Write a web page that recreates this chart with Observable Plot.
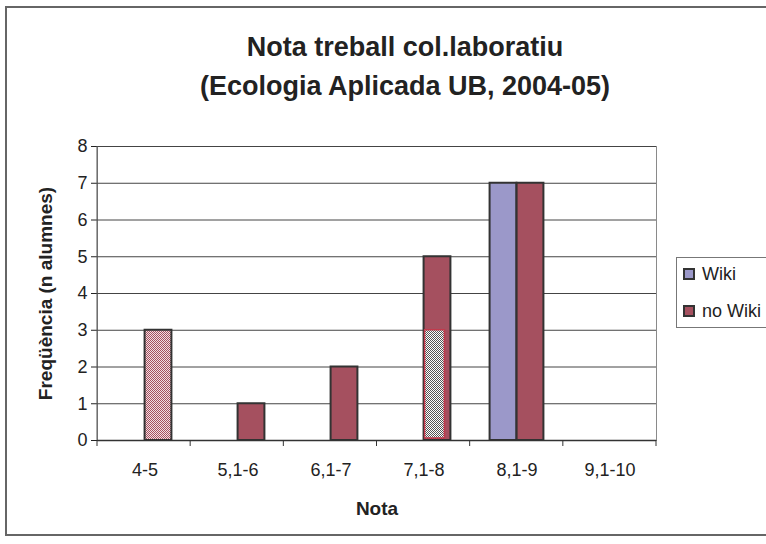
<!DOCTYPE html>
<html>
<head>
<meta charset="utf-8">
<script src="https://cdn.jsdelivr.net/npm/d3@7"></script>
<script src="https://cdn.jsdelivr.net/npm/@observablehq/plot@0.6"></script>
<style>
  html, body { margin: 0; padding: 0; background: #fff; overflow: hidden; }
  body { width: 766px; height: 544px; position: relative; font-family: "Liberation Sans", Arial, sans-serif; color: #222; }
  #frame { position: absolute; left: 5px; top: 6px; width: 761px; height: 530px; border: 2px solid #666; border-right: none; box-sizing: border-box; }
  #title { position: absolute; left: 44px; width: 722px; top: 28px; text-align: center; font-weight: bold; font-size: 27px; line-height: 39px; color: #222; }
  #chart { position: absolute; left: 0; top: 0; }
  #legend { position: absolute; left: 676px; top: 257px; width: 90px; height: 71px; border: 1px solid #777; border-right: none; box-sizing: border-box; background: #fff; font-size: 18px; }
  .item { position: absolute; left: 6px; height: 20px; line-height: 20px; white-space: nowrap; }
  .sw { display: inline-block; width: 8px; height: 8px; border: 2px solid #333; vertical-align: middle; margin-right: 7px; position: relative; top: -1px; }
</style>
</head>
<body>
<div id="frame"></div>
<div id="title">Nota treball col.laboratiu<br>(Ecologia Aplicada UB, 2004-05)</div>
<div id="chart"></div>
<div id="legend"></div>
<script>
// Data
const categories = ["4-5", "5,1-6", "6,1-7", "7,1-8", "8,1-9", "9,1-10"];
const wiki = [0, 0, 0, 0, 7, 0];
const noWiki = [3, 1, 2, 5, 7, 0];
const shadedOverlay = [0, 0, 0, 3, 0, 0];
const yTicks = [0, 1, 2, 3, 4, 5, 6, 7, 8];
const seriesNames = ["Wiki", "no Wiki"];

const colWiki = "#9b98c9";
const colNoWiki = "#a5505f";

const wikiData = categories.map((c, i) => ({cat: c, value: wiki[i]})).filter(d => d.value > 0);
const noWikiData = categories.map((c, i) => ({cat: c, value: noWiki[i]})).filter(d => d.value > 0);
const overlayData = categories.map((c, i) => ({cat: c, value: shadedOverlay[i]})).filter(d => d.value > 0);

const W = 766, H = 544;
const mL = 97, mR = 110, mT = 146, mB = 104;
const bw = (W - mL - mR) / categories.length;
const half = bw / 2;
const barW = 27;

const plot = Plot.plot({
  width: W,
  height: H,
  marginLeft: mL,
  marginRight: mR,
  marginTop: mT,
  marginBottom: mB,
  style: {fontFamily: "'Liberation Sans', Arial, sans-serif", color: "#222", background: "transparent", overflow: "visible"},
  x: {domain: categories, padding: 0},
  y: {domain: [0, 8]},
  marks: [
    Plot.frame({stroke: "#8a8a8a"}),
    Plot.ruleY(yTicks.filter(d => d > 0), {stroke: "#444", strokeWidth: 1}),
    Plot.barY(wikiData, {x: "cat", y: "value", fill: colWiki, stroke: "#333", strokeWidth: 2,
      insetLeft: half - barW, insetRight: half}),
    Plot.barY(noWikiData.filter(d => d.cat !== "4-5"), {x: "cat", y: "value", fill: colNoWiki, stroke: "#333", strokeWidth: 2,
      insetLeft: half, insetRight: half - barW}),
    Plot.barY(noWikiData.filter(d => d.cat === "4-5"), {x: "cat", y: "value", fill: "url(#pinkCheck)", stroke: "#333", strokeWidth: 2,
      insetLeft: half, insetRight: half - barW}),
    Plot.barY(overlayData, {x: "cat", y: "value", fill: "url(#grayCheck)", stroke: "#c23a4c", strokeWidth: 1.5,
      insetLeft: half + 1, insetRight: half - barW + 6, insetBottom: 2}),
    Plot.ruleY([0], {stroke: "#333", strokeWidth: 1.5}),
    Plot.axisY({ticks: yTicks, tickSize: 6, tickPadding: 4, fontSize: 18, label: null, tickFormat: d => String(d)}),
    Plot.axisX({tickSize: 0, tickPadding: 23, fontSize: 18, label: null}),
    Plot.text(["Nota"], {frameAnchor: "bottom", dy: 74, fontSize: 19, fontWeight: "bold", text: d => d}),
    Plot.text(["Freqüència (n alumnes)"], {frameAnchor: "left", textAnchor: "middle", dx: -52, rotate: -90, fontSize: 19, fontWeight: "bold", text: d => d})
  ]
});

// patterns for hatched bars
const ns = "http://www.w3.org/2000/svg";
const defs = document.createElementNS(ns, "defs");
defs.innerHTML = `
  <pattern id="pinkCheck" width="2" height="2" patternUnits="userSpaceOnUse">
    <rect width="2" height="2" fill="#f2dfe3"/>
    <rect x="0" y="0" width="1" height="1" fill="${colNoWiki}"/>
    <rect x="1" y="1" width="1" height="1" fill="${colNoWiki}"/>
  </pattern>
  <pattern id="grayCheck" width="2" height="2" patternUnits="userSpaceOnUse">
    <rect width="2" height="2" fill="#ffffff"/>
    <rect x="0" y="0" width="1" height="1" fill="#555"/>
    <rect x="1" y="1" width="1" height="1" fill="#555"/>
  </pattern>`;
plot.insertBefore(defs, plot.firstChild);

// category boundary ticks on the x axis (from the x scale)
const xs = plot.scale("x");
const y0 = H - mB;
const g = d3.select(plot).append("g").attr("stroke", "#333").attr("stroke-width", 1);
const r0 = xs.range[0], r1 = xs.range[1];
const step = (r1 - r0) / categories.length;
for (let i = 0; i <= categories.length; i++) {
  const x = r0 + i * step;
  g.append("line").attr("x1", x).attr("x2", x).attr("y1", y0).attr("y2", y0 + 6);
}
// left axis line
g.append("line").attr("x1", r0).attr("x2", r0).attr("y1", mT).attr("y2", y0).attr("stroke", "#555");

document.getElementById("chart").appendChild(plot);

// legend
const legend = document.getElementById("legend");
const legendColors = [colWiki, colNoWiki];
const legendTops = [6, 43];
seriesNames.forEach((name, i) => {
  const it = document.createElement("div");
  it.className = "item";
  it.style.top = legendTops[i] + "px";
  it.innerHTML = `<span class="sw" style="background:${legendColors[i]}"></span>${name}`;
  legend.appendChild(it);
});
</script>
</body>
</html>
